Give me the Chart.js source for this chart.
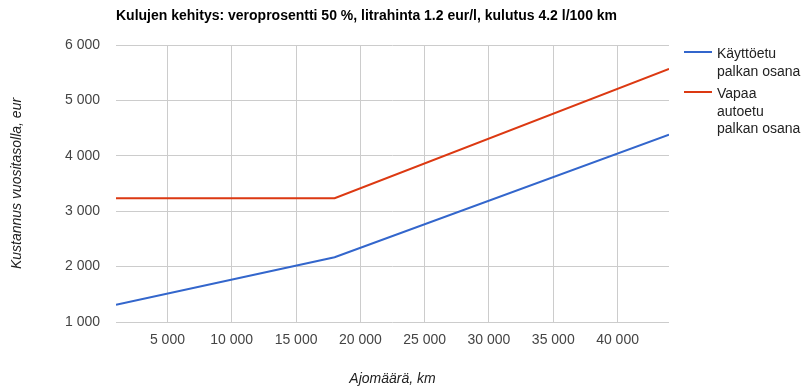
<!DOCTYPE html>
<html>
<head>
<meta charset="utf-8">
<script src="https://cdn.jsdelivr.net/npm/chart.js@4/dist/chart.umd.min.js"></script>
<style>
  body { margin: 0; background: #fff; font-family: "Liberation Sans", Arial, sans-serif; }
  #wrap { position: relative; width: 808px; height: 388px; }
  #title { position: absolute; left: 116px; top: 7px; font-weight: bold; font-size: 14px; color: #000; white-space: nowrap; }
  #legend { position: absolute; left: 684px; top: 45px; font-size: 14px; color: #222; line-height: 17.5px; }
  .item { position: relative; padding-left: 33px; margin-bottom: 5px; white-space: nowrap; }
  .swatch { position: absolute; left: 0; top: 6px; width: 28px; height: 2px; }
</style>
</head>
<body>
<div id="wrap">
  <canvas id="chart" width="808" height="388"></canvas>
  <div id="title">Kulujen kehitys: veroprosentti 50 %, litrahinta 1.2 eur/l, kulutus 4.2 l/100 km</div>
  <div id="legend"></div>
</div>
<script>
// ajomäärä (km) ja vuosikustannus (eur)
const km = [1000, 18000, 44000];
const kayttoetu = [1310, 2168, 4380];
const vapaaAutoetu = [3233, 3233, 5570];
const seriesNames = [['Käyttöetu', 'palkan osana'], ['Vapaa', 'autoetu', 'palkan osana']];
const seriesColors = ['#3366cc', '#dc3912'];
const xTicks = [5000, 10000, 15000, 20000, 25000, 30000, 35000, 40000];
const yTicks = [1000, 2000, 3000, 4000, 5000, 6000];

function fmt(v) {
  return String(v).replace(/\B(?=(\d{3})+(?!\d))/g, ' ');
}

const tickFont = { family: '"Liberation Sans", Arial, sans-serif', size: 14 };
const titleFont = { family: '"Liberation Sans", Arial, sans-serif', size: 14, style: 'italic' };

new Chart(document.getElementById('chart'), {
  type: 'line',
  data: {
    datasets: [
      { label: seriesNames[0].join(' '), data: km.map((x, i) => ({ x: x, y: kayttoetu[i] })),
        borderColor: seriesColors[0], borderWidth: 2, pointRadius: 0, tension: 0, fill: false },
      { label: seriesNames[1].join(' '), data: km.map((x, i) => ({ x: x, y: vapaaAutoetu[i] })),
        borderColor: seriesColors[1], borderWidth: 2, pointRadius: 0, tension: 0, fill: false }
    ]
  },
  options: {
    responsive: false,
    animation: false,
    layout: { padding: { top: 45, right: 139, left: 0, bottom: 0 } },
    plugins: { legend: { display: false }, tooltip: { enabled: false } },
    scales: {
      x: {
        type: 'linear', min: 1000, max: 44000,
        afterBuildTicks: s => { s.ticks = xTicks.map(v => ({ value: v })); },
        afterFit: s => { s.height = 66; },
        grid: { color: '#cccccc', drawTicks: false },
        border: { display: false },
        ticks: { font: tickFont, color: '#444', padding: 10, maxRotation: 0, callback: v => fmt(v) },
        title: { display: true, text: 'Ajomäärä, km', font: titleFont, color: '#222', padding: { top: 2.5, bottom: 0 } }
      },
      y: {
        min: 1000, max: 6000,
        afterBuildTicks: s => { s.ticks = yTicks.map(v => ({ value: v })); },
        afterFit: s => { s.width = 116; },
        grid: { color: '#cccccc', drawTicks: false },
        border: { display: false },
        ticks: { font: tickFont, color: '#444', padding: 16, callback: v => fmt(v) },
        title: { display: true, text: 'Kustannus vuositasolla, eur', font: titleFont, color: '#222', padding: { top: 9, bottom: 0 } }
      }
    }
  }
});

const legend = document.getElementById('legend');
seriesNames.forEach((lines, i) => {
  const item = document.createElement('div');
  item.className = 'item';
  item.innerHTML = '<span class="swatch" style="background:' + seriesColors[i] + '"></span>' + lines.join('<br>');
  legend.appendChild(item);
});
</script>
</body>
</html>
